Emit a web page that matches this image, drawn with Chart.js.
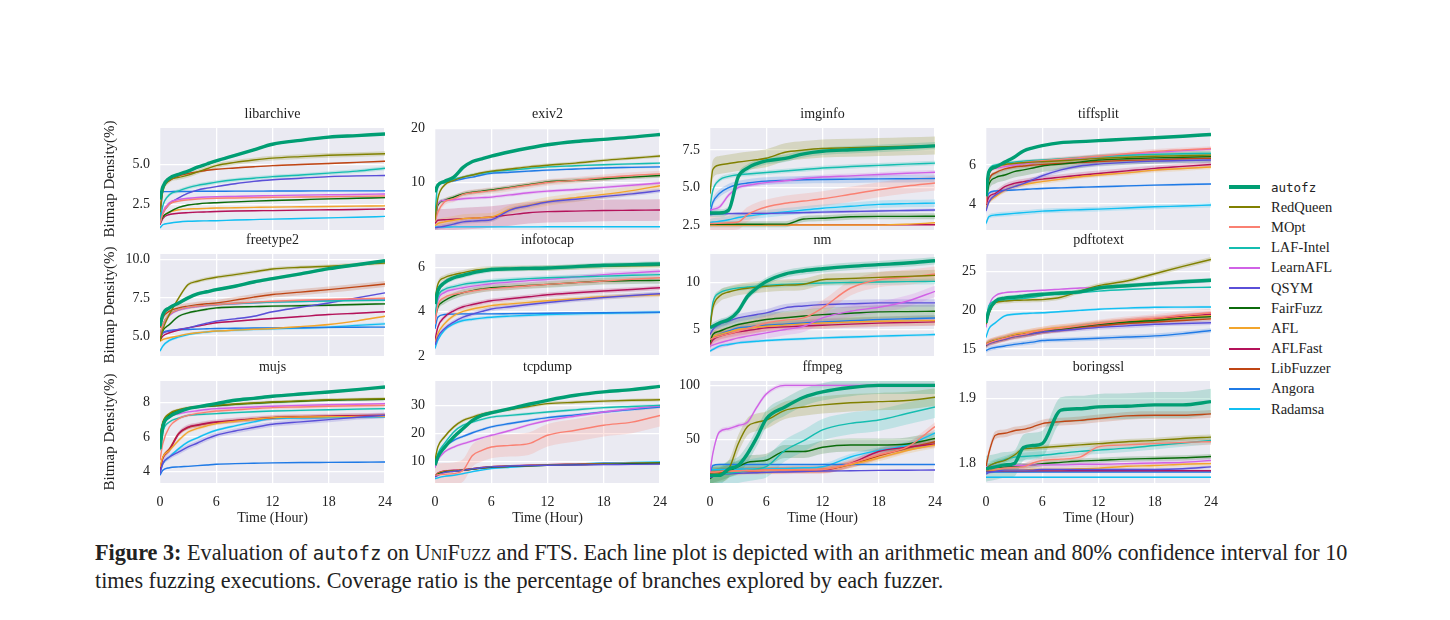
<!DOCTYPE html>
<html>
<head>
<meta charset="utf-8">
<script src="https://cdn.jsdelivr.net/npm/chart.js@4"></script>
<style>
body { margin: 0; background: #fff; width: 1450px; height: 620px; position: relative; overflow: hidden;
       font-family: "Liberation Serif", serif; color: #222; }
canvas { position: absolute; }
#legend { position: absolute; left: 1229px; top: 177px; }
.item { height: 20.2px; display: flex; align-items: center; font-size: 14.5px; }
.swatch { width: 31px; margin-right: 11px; }
.mono { font-family: "DejaVu Sans Mono", monospace; font-size: 12.5px; }
#caption { position: absolute; left: 95px; top: 539px; font-size: 22.2px; line-height: 27px; white-space: nowrap; }
#caption .tt { font-family: "DejaVu Sans Mono", monospace; font-size: 19px; }
#caption .sc { font-variant: small-caps; }
</style>
</head>
<body>
<div id="legend"></div>
<div id="caption"><b>Figure 3:</b> Evaluation of <span class="tt">autofz</span> on <span class="sc">UniFuzz</span> and FTS. Each line plot is depicted with an arithmetic mean and 80% confidence interval for 10<br>times fuzzing executions. Coverage ratio is the percentage of branches explored by each fuzzer.</div>
<script>
// time axis (hours) shared by every series
const HOURS = [0, 0.3, 1, 2, 3, 4, 5, 6, 8, 10, 12, 15, 18, 21, 24];
const X_TICKS = ['0', '6', '12', '18', '24'];

const FUZZERS = ['autofz', 'RedQueen', 'MOpt', 'LAF-Intel', 'LearnAFL', 'QSYM', 'FairFuzz', 'AFL', 'AFLFast', 'LibFuzzer', 'Angora', 'Radamsa'];
const COLORS = ['#009e73', '#808000', '#fa8072', '#14bdb0', '#d062e6', '#5a4fd8', '#0b6b0b', '#f2a52c', '#b4125a', '#bf4514', '#1f7ae6', '#11bff2'];

const TARGETS = ['libarchive', 'exiv2', 'imginfo', 'tiffsplit', 'freetype2', 'infotocap', 'nm', 'pdftotext', 'mujs', 'tcpdump', 'ffmpeg', 'boringssl'];
const Y_MIN = [0.87, 1.2, 2.17, 2.67, 3.7, 2.0, 2.2, 14.1, 3.32, 2.25, 10, 1.769];
const Y_MAX = [7.33, 20.1, 8.97, 7.9, 10.37, 6.6, 13.0, 27.3, 9.26, 38.7, 104, 1.927];
const Y_TICKS = [
  ['2.5', '5.0'], ['10', '20'], ['2.5', '5.0', '7.5'], ['4', '6'],
  ['5.0', '7.5', '10.0'], ['2', '4', '6'], ['5', '10'], ['15', '20', '25'],
  ['4', '6', '8'], ['10', '20', '30'], ['50', '100'], ['1.8', '1.9']
];

// rows follow FUZZERS order; null = not plotted
const LIBARCHIVE = [
  [2.8, 3.6, 4.15, 4.4, 4.6, 4.85, 5.05, 5.25, 5.6, 5.95, 6.3, 6.55, 6.75, 6.85, 6.95],
  [2.0, 3.3, 4.0, 4.2, 4.35, 4.55, 4.75, 4.95, 5.15, 5.3, 5.42, 5.52, 5.6, 5.65, 5.7],
  [1.3, 1.9, 2.5, 2.7, 2.78, 2.83, 2.86, 2.88, 2.9, 2.92, 2.94, 2.96, 2.98, 3.0, 3.02],
  [1.4, 2.4, 3.1, 3.35, 3.55, 3.7, 3.8, 3.9, 4.05, 4.15, 4.25, 4.35, 4.47, 4.6, 4.78],
  [1.3, 2.0, 2.6, 2.8, 2.88, 2.93, 2.96, 2.98, 3.0, 3.02, 3.05, 3.08, 3.1, 3.12, 3.15],
  [1.3, 1.9, 2.5, 2.9, 3.2, 3.4, 3.52, 3.62, 3.8, 3.95, 4.05, 4.15, 4.25, 4.3, 4.32],
  [1.3, 1.7, 2.0, 2.3, 2.45, 2.52, 2.57, 2.6, 2.65, 2.7, 2.74, 2.79, 2.84, 2.88, 2.92],
  [1.3, 1.7, 2.0, 2.15, 2.2, 2.22, 2.24, 2.26, 2.28, 2.3, 2.32, 2.34, 2.36, 2.38, 2.4],
  [1.2, 1.6, 1.85, 1.93, 1.97, 2.0, 2.02, 2.04, 2.07, 2.09, 2.1, 2.13, 2.15, 2.17, 2.2],
  [2.0, 3.5, 4.0, 4.3, 4.45, 4.55, 4.65, 4.72, 4.8, 4.88, 4.95, 5.02, 5.08, 5.15, 5.22],
  [1.3, 3.3, 3.3, 3.31, 3.31, 3.32, 3.32, 3.32, 3.33, 3.33, 3.34, 3.34, 3.35, 3.35, 3.35],
  [1.0, 1.2, 1.3, 1.38, 1.42, 1.44, 1.45, 1.46, 1.5, 1.53, 1.56, 1.6, 1.64, 1.68, 1.73]
];
const LIBARCHIVE_SPREAD = [0.08, 0.15, 0.05, 0.12, 0.05, 0.05, 0.05, 0.05, 0.05, 0.05, 0.03, 0.03];

const EXIV2 = [
  [8.2, 9.5, 10.2, 11.0, 12.8, 13.9, 14.4, 14.9, 15.7, 16.4, 17.0, 17.6, 18.0, 18.4, 18.9],
  [3.0, 7.0, 9.5, 10.4, 11.0, 11.4, 11.8, 12.1, 12.5, 12.9, 13.2, 13.6, 14.1, 14.5, 14.9],
  [2.7, 4.5, 6.4, 7.0, 7.8, 8.1, 8.3, 8.5, 9.0, 9.5, 10.0, 10.4, 10.9, 11.3, 11.6],
  [4.0, 9.5, 10.0, 10.6, 11.0, 11.4, 11.7, 12.0, 12.3, 12.6, 12.9, 13.1, 13.3, 13.45, 13.6],
  [3.0, 6.1, 6.7, 6.8, 7.0, 7.1, 7.2, 7.3, 7.7, 8.1, 8.4, 8.7, 9.1, 9.5, 9.9],
  [1.6, 1.7, 1.9, 2.3, 2.7, 2.85, 2.95, 3.1, 4.9, 5.7, 6.4, 6.9, 7.4, 7.9, 8.5],
  [2.7, 5.8, 6.7, 7.3, 7.9, 8.2, 8.4, 8.6, 9.1, 9.6, 10.1, 10.4, 10.7, 11.0, 11.3],
  [2.0, 2.4, 2.7, 3.0, 3.3, 3.4, 3.5, 3.6, 5.0, 5.8, 6.5, 7.2, 7.8, 8.5, 9.4],
  [2.4, 3.0, 3.1, 3.2, 3.3, 3.4, 3.5, 3.6, 4.0, 4.4, 4.6, 4.7, 4.8, 4.85, 4.9],
  null,
  [8.6, 9.6, 10.0, 10.3, 10.7, 11.0, 11.4, 11.7, 11.9, 12.1, 12.3, 12.5, 12.7, 12.8, 12.9],
  [1.75, 1.76, 1.76, 1.77, 1.77, 1.77, 1.78, 1.78, 1.78, 1.78, 1.79, 1.79, 1.79, 1.8, 1.8]
];
const EXIV2_SPREAD = [0.2, 0.3, 0.6, 0.2, 0.3, 0.4, 0.4, 0.8, 2.0, 0, 0.2, 0.05];

const IMGINFO = [
  [3.3, 3.3, 3.3, 3.5, 5.7, 6.3, 6.6, 6.78, 6.95, 7.25, 7.42, 7.52, 7.6, 7.68, 7.78],
  [4.6, 6.2, 6.5, 6.6, 6.7, 6.78, 6.85, 6.95, 7.35, 7.5, 7.6, 7.65, 7.7, 7.75, 7.8],
  [2.6, 2.6, 2.62, 2.65, 2.7, 3.2, 3.5, 3.7, 3.95, 4.1, 4.25, 4.55, 4.85, 5.1, 5.3],
  [3.7, 4.8, 5.5, 5.75, 5.85, 5.9, 5.95, 6.0, 6.1, 6.2, 6.3, 6.4, 6.48, 6.56, 6.63],
  [3.5, 3.55, 3.7, 4.5, 5.0, 5.15, 5.25, 5.33, 5.45, 5.6, 5.7, 5.78, 5.87, 5.95, 6.02],
  [3.2, 3.22, 3.25, 3.26, 3.27, 3.27, 3.28, 3.28, 3.3, 3.33, 3.36, 3.4, 3.44, 3.47, 3.5],
  [2.55, 2.55, 2.55, 2.55, 2.55, 2.55, 2.55, 2.56, 2.56, 2.9, 2.95, 3.05, 3.08, 3.08, 3.09],
  [2.5, 2.5, 2.5, 2.5, 2.5, 2.5, 2.5, 2.5, 2.5, 2.5, 2.5, 2.5, 2.5, 2.55, 2.65],
  [2.52, 2.52, 2.52, 2.52, 2.52, 2.52, 2.52, 2.52, 2.52, 2.52, 2.52, 2.52, 2.52, 2.52, 2.52],
  null,
  [3.3, 4.0, 4.6, 5.0, 5.2, 5.3, 5.38, 5.43, 5.48, 5.52, 5.54, 5.56, 5.58, 5.59, 5.6],
  [2.65, 2.7, 2.75, 2.85, 3.0, 3.1, 3.18, 3.25, 3.38, 3.5, 3.62, 3.75, 3.88, 3.93, 3.96]
];
const IMGINFO_SPREAD = [0.25, 0.6, 0.5, 0.15, 0.15, 0.1, 0.2, 0.05, 0.03, 0, 0.25, 0.25];

const TIFFSPLIT = [
  [4.4, 5.65, 5.9, 6.15, 6.4, 6.72, 6.88, 7.0, 7.15, 7.2, 7.25, 7.33, 7.4, 7.48, 7.57],
  [4.55, 5.5, 5.9, 6.03, 6.08, 6.12, 6.15, 6.17, 6.22, 6.28, 6.34, 6.4, 6.45, 6.48, 6.51],
  [4.0, 5.55, 5.85, 6.0, 6.08, 6.13, 6.18, 6.22, 6.3, 6.38, 6.45, 6.58, 6.7, 6.78, 6.85],
  [4.46, 5.74, 6.0, 6.1, 6.15, 6.2, 6.23, 6.26, 6.32, 6.38, 6.43, 6.5, 6.55, 6.58, 6.6],
  [4.1, 5.57, 5.83, 5.92, 6.0, 6.07, 6.12, 6.17, 6.26, 6.35, 6.43, 6.55, 6.65, 6.74, 6.82],
  [3.64, 4.1, 4.46, 4.72, 4.89, 5.05, 5.25, 5.45, 5.75, 5.95, 6.05, 6.14, 6.2, 6.23, 6.26],
  [4.1, 4.97, 5.35, 5.49, 5.66, 5.75, 5.85, 5.95, 6.05, 6.15, 6.26, 6.32, 6.37, 6.4, 6.43],
  [3.78, 4.1, 4.38, 4.7, 4.89, 5.0, 5.08, 5.15, 5.28, 5.4, 5.49, 5.6, 5.74, 5.82, 5.9],
  [3.95, 4.35, 4.55, 4.89, 5.06, 5.15, 5.22, 5.28, 5.38, 5.48, 5.57, 5.7, 5.83, 5.93, 6.03],
  [4.0, 5.2, 5.6, 5.8, 5.9, 5.95, 6.0, 6.03, 6.08, 6.13, 6.18, 6.24, 6.28, 6.32, 6.35],
  [3.95, 4.55, 4.67, 4.7, 4.72, 4.75, 4.78, 4.8, 4.83, 4.86, 4.89, 4.93, 4.97, 5.0, 5.03],
  [3.0, 3.35, 3.44, 3.48, 3.52, 3.56, 3.6, 3.64, 3.68, 3.71, 3.74, 3.8, 3.86, 3.9, 3.95]
];
const TIFFSPLIT_SPREAD = [0.05, 0.1, 0.12, 0.08, 0.08, 0.12, 0.3, 0.12, 0.15, 0.1, 0.05, 0.12];

const FREETYPE2 = [
  [5.65, 6.41, 6.85, 7.17, 7.5, 7.76, 7.9, 8.04, 8.26, 8.54, 8.76, 9.07, 9.41, 9.67, 9.93],
  [4.67, 5.43, 6.41, 7.5, 8.37, 8.59, 8.74, 8.85, 9.02, 9.2, 9.39, 9.5, 9.57, 9.67, 9.78],
  [5.0, 5.76, 6.41, 6.74, 6.89, 6.97, 7.03, 7.07, 7.15, 7.22, 7.28, 7.35, 7.4, 7.45, 7.48],
  [5.0, 5.76, 6.41, 6.74, 6.89, 6.97, 7.03, 7.07, 7.13, 7.18, 7.22, 7.26, 7.3, 7.33, 7.35],
  [5.0, 5.7, 6.35, 6.7, 6.85, 6.93, 7.0, 7.05, 7.12, 7.18, 7.24, 7.3, 7.35, 7.4, 7.43],
  [5.1, 5.2, 5.33, 5.45, 5.54, 5.7, 5.85, 5.98, 6.13, 6.3, 6.59, 6.88, 7.17, 7.5, 7.83],
  [4.72, 5.33, 5.76, 6.3, 6.52, 6.65, 6.76, 6.85, 6.9, 6.93, 6.96, 6.99, 7.02, 7.07, 7.11],
  [4.67, 4.78, 4.89, 5.02, 5.15, 5.22, 5.28, 5.33, 5.39, 5.45, 5.5, 5.62, 5.76, 6.0, 6.3],
  [4.72, 5.0, 5.22, 5.4, 5.54, 5.65, 5.77, 5.87, 5.97, 6.07, 6.15, 6.28, 6.41, 6.5, 6.59],
  [5.54, 6.2, 6.63, 6.85, 6.96, 7.05, 7.12, 7.17, 7.35, 7.55, 7.72, 7.88, 8.04, 8.22, 8.41],
  [4.78, 5.22, 5.37, 5.41, 5.43, 5.46, 5.48, 5.5, 5.51, 5.53, 5.54, 5.55, 5.57, 5.58, 5.59],
  [4.02, 4.35, 4.72, 4.95, 5.1, 5.2, 5.27, 5.33, 5.39, 5.44, 5.48, 5.53, 5.59, 5.7, 5.8]
];
const FREETYPE2_SPREAD = [0.1, 0.12, 0.08, 0.08, 0.08, 0.05, 0.08, 0.05, 0.05, 0.2, 0.05, 0.1];

const INFOTOCAP = [
  [4.34, 4.93, 5.3, 5.53, 5.64, 5.75, 5.83, 5.9, 5.93, 5.95, 5.97, 6.03, 6.09, 6.12, 6.15],
  [4.56, 5.23, 5.53, 5.67, 5.76, 5.85, 5.9, 5.93, 5.95, 5.96, 5.97, 6.01, 6.04, 6.07, 6.09],
  [3.45, 4.27, 4.64, 4.78, 4.86, 4.93, 5.0, 5.04, 5.1, 5.17, 5.23, 5.31, 5.38, 5.46, 5.53],
  [3.82, 4.64, 5.0, 5.13, 5.23, 5.29, 5.34, 5.38, 5.44, 5.49, 5.53, 5.57, 5.6, 5.64, 5.67],
  [3.67, 4.49, 4.86, 5.0, 5.08, 5.15, 5.21, 5.26, 5.33, 5.4, 5.45, 5.56, 5.67, 5.75, 5.82],
  [2.49, 2.86, 3.23, 3.53, 3.75, 3.89, 4.01, 4.12, 4.22, 4.32, 4.41, 4.53, 4.64, 4.73, 4.81],
  [3.67, 4.19, 4.49, 4.71, 4.86, 4.95, 5.02, 5.08, 5.13, 5.18, 5.23, 5.31, 5.38, 5.4, 5.41],
  [2.56, 3.0, 3.45, 3.82, 4.01, 4.12, 4.2, 4.27, 4.35, 4.42, 4.49, 4.58, 4.67, 4.72, 4.76],
  [2.71, 3.3, 3.75, 4.04, 4.22, 4.32, 4.41, 4.49, 4.58, 4.67, 4.76, 4.85, 4.93, 5.0, 5.08],
  null,
  [3.23, 3.75, 3.87, 3.89, 3.9, 3.9, 3.9, 3.9, 3.91, 3.92, 3.93, 3.94, 3.95, 3.96, 3.97],
  [2.34, 2.71, 3.16, 3.45, 3.6, 3.66, 3.71, 3.75, 3.8, 3.84, 3.87, 3.9, 3.93, 3.95, 3.97]
];
const INFOTOCAP_SPREAD = [0.12, 0.12, 0.12, 0.1, 0.1, 0.1, 0.15, 0.1, 0.1, 0, 0.04, 0.08];

const NM = [
  [5.18, 5.35, 5.7, 6.06, 6.94, 8.52, 9.4, 10.1, 10.88, 11.23, 11.44, 11.69, 11.87, 12.04, 12.29],
  [5.18, 7.29, 8.52, 8.98, 9.23, 9.37, 9.48, 9.58, 9.7, 9.8, 10.28, 10.4, 10.53, 10.63, 10.74],
  [3.94, 4.1, 4.3, 4.55, 4.82, 5.1, 5.4, 5.7, 6.0, 6.23, 7.29, 9.4, 10.28, 10.53, 10.88],
  [5.18, 7.82, 8.87, 9.23, 9.4, 9.5, 9.6, 9.68, 9.78, 9.86, 9.93, 9.98, 10.03, 10.07, 10.1],
  [3.24, 3.35, 3.59, 3.85, 4.12, 4.3, 4.48, 4.65, 5.0, 5.35, 6.23, 6.94, 7.36, 8.0, 9.05],
  [4.47, 5.0, 5.53, 5.9, 6.23, 6.42, 6.6, 6.76, 7.3, 7.5, 7.64, 7.73, 7.82, 7.82, 7.82],
  [3.59, 4.47, 4.82, 5.2, 5.53, 5.72, 5.9, 6.06, 6.25, 6.43, 6.58, 6.72, 6.87, 6.9, 6.94],
  [3.59, 4.2, 4.47, 4.75, 5.0, 5.12, 5.25, 5.35, 5.47, 5.6, 5.7, 5.8, 5.88, 5.92, 5.95],
  [3.42, 3.9, 4.3, 4.55, 4.75, 4.9, 5.05, 5.18, 5.28, 5.38, 5.46, 5.58, 5.68, 5.75, 5.81],
  null,
  [3.77, 4.1, 4.47, 4.85, 5.18, 5.28, 5.38, 5.46, 5.58, 5.7, 5.81, 5.93, 6.06, 6.15, 6.23],
  [2.71, 2.89, 3.24, 3.42, 3.59, 3.68, 3.76, 3.84, 3.94, 4.03, 4.12, 4.21, 4.3, 4.38, 4.47]
];
const NM_SPREAD = [0.4, 0.6, 0.8, 0.3, 0.6, 0.4, 0.7, 0.5, 0.4, 0, 0.3, 0.15];

const PDFTOTEXT = [
  [18.4, 19.9, 21.2, 21.6, 21.7, 21.85, 22.0, 22.1, 22.25, 22.4, 22.9, 23.2, 23.45, 23.7, 23.9],
  [18.2, 19.5, 21.0, 21.2, 21.3, 21.33, 21.37, 21.4, 21.7, 22.5, 23.2, 23.8, 24.75, 25.7, 26.6],
  [15.6, 15.8, 16.1, 16.4, 16.7, 16.9, 17.2, 17.4, 17.7, 18.0, 18.3, 18.7, 19.0, 19.4, 19.7],
  [18.6, 20.6, 21.2, 21.3, 21.4, 21.55, 21.7, 21.9, 22.1, 22.3, 22.5, 22.7, 22.85, 22.95, 23.0],
  [17.8, 20.4, 21.9, 22.3, 22.4, 22.47, 22.55, 22.6, 22.75, 22.9, 23.0, 23.2, 23.4, 23.6, 23.8],
  [15.5, 15.7, 16.0, 16.3, 16.6, 16.8, 17.0, 17.2, 17.4, 17.6, 17.8, 18.0, 18.2, 18.3, 18.4],
  [15.5, 15.8, 16.1, 16.4, 16.7, 16.9, 17.1, 17.3, 17.6, 17.9, 18.2, 18.5, 18.7, 19.0, 19.2],
  [15.6, 15.9, 16.2, 16.5, 16.9, 17.1, 17.3, 17.5, 17.8, 18.0, 18.3, 18.6, 18.8, 19.1, 19.3],
  [15.5, 15.8, 16.1, 16.4, 16.7, 16.9, 17.1, 17.3, 17.6, 17.9, 18.2, 18.6, 18.9, 19.2, 19.5],
  [15.5, 15.8, 16.0, 16.3, 16.6, 16.8, 17.0, 17.2, 17.5, 17.8, 18.0, 18.3, 18.5, 18.7, 18.9],
  [14.8, 15.0, 15.2, 15.4, 15.6, 15.75, 15.9, 16.1, 16.2, 16.3, 16.4, 16.55, 16.7, 17.0, 17.4],
  [16.5, 17.6, 18.4, 19.3, 19.5, 19.6, 19.65, 19.7, 19.85, 20.0, 20.15, 20.3, 20.4, 20.43, 20.45]
];
const PDFTOTEXT_SPREAD = [0.3, 0.3, 0.5, 0.1, 0.1, 0.3, 0.3, 0.4, 0.4, 0.3, 0.3, 0.15];

const MUJS = [
  [5.32, 6.58, 7.17, 7.46, 7.65, 7.75, 7.85, 7.94, 8.14, 8.25, 8.37, 8.5, 8.62, 8.76, 8.91],
  [6.1, 6.87, 7.36, 7.59, 7.71, 7.76, 7.8, 7.84, 7.92, 7.98, 8.04, 8.1, 8.17, 8.2, 8.23],
  [4.64, 5.61, 6.58, 7.07, 7.26, 7.37, 7.45, 7.51, 7.58, 7.65, 7.71, 7.75, 7.79, 7.82, 7.84],
  [5.22, 6.29, 6.87, 7.1, 7.26, 7.3, 7.33, 7.36, 7.42, 7.47, 7.51, 7.55, 7.59, 7.62, 7.65],
  [5.51, 6.58, 7.17, 7.35, 7.46, 7.53, 7.6, 7.65, 7.7, 7.75, 7.79, 7.84, 7.88, 7.91, 7.94],
  [3.86, 4.45, 4.83, 5.13, 5.42, 5.65, 5.9, 6.1, 6.35, 6.55, 6.74, 6.88, 7.01, 7.15, 7.26],
  [6.0, 6.8, 7.3, 7.55, 7.68, 7.74, 7.78, 7.82, 7.9, 7.96, 8.02, 8.08, 8.14, 8.17, 8.2],
  [4.25, 4.83, 5.22, 5.81, 6.29, 6.5, 6.65, 6.78, 6.92, 7.03, 7.13, 7.16, 7.18, 7.19, 7.2],
  [4.06, 4.74, 5.22, 6.19, 6.58, 6.7, 6.8, 6.87, 6.97, 7.05, 7.13, 7.18, 7.21, 7.24, 7.26],
  [4.1, 4.8, 5.3, 6.2, 6.55, 6.68, 6.78, 6.85, 6.95, 7.04, 7.12, 7.17, 7.2, 7.23, 7.25],
  [3.77, 4.06, 4.21, 4.26, 4.29, 4.33, 4.37, 4.41, 4.45, 4.47, 4.49, 4.51, 4.52, 4.53, 4.54],
  [3.96, 4.45, 4.83, 5.32, 5.71, 5.95, 6.2, 6.39, 6.65, 6.88, 7.07, 7.1, 7.13, 7.15, 7.17]
];
const MUJS_SPREAD = [0.08, 0.08, 0.1, 0.06, 0.08, 0.15, 0.08, 0.1, 0.15, 0.1, 0.04, 0.08];

const TCPDUMP = [
  [8.6, 11.5, 14.9, 18.7, 21.7, 24.6, 26.4, 27.3, 28.8, 30.4, 31.8, 33.6, 34.8, 35.6, 36.8],
  [10.4, 15.1, 18.7, 22.3, 24.6, 25.8, 26.8, 27.6, 28.5, 29.6, 30.6, 31.1, 31.5, 31.8, 32.0],
  [5.0, 5.2, 5.4, 5.6, 6.8, 12.1, 13.9, 15.1, 15.7, 16.3, 19.3, 21.1, 22.9, 24.0, 26.4],
  [9.2, 12.7, 16.3, 20.5, 22.9, 24.0, 25.0, 25.8, 26.4, 27.0, 27.6, 28.4, 29.2, 29.6, 30.0],
  [7.7, 10.4, 13.3, 15.1, 16.3, 17.3, 18.4, 19.3, 21.0, 23.0, 24.6, 26.2, 27.6, 28.8, 29.8],
  [4.4, 5.0, 6.0, 6.4, 6.8, 7.3, 7.7, 8.0, 8.3, 8.5, 8.6, 8.7, 8.8, 8.9, 9.0],
  [4.6, 5.4, 6.2, 6.5, 6.8, 7.2, 7.6, 7.9, 8.2, 8.4, 8.6, 8.8, 9.0, 9.2, 9.4],
  [4.6, 5.6, 6.4, 6.6, 6.9, 7.3, 7.7, 8.0, 8.3, 8.5, 8.7, 8.9, 9.1, 9.3, 9.5],
  [4.8, 5.8, 6.6, 6.8, 7.0, 7.4, 7.8, 8.1, 8.4, 8.6, 8.8, 9.0, 9.2, 9.3, 9.4],
  [4.5, 5.4, 6.2, 6.5, 6.8, 7.2, 7.6, 7.9, 8.2, 8.4, 8.6, 8.8, 9.0, 9.1, 9.2],
  [8.6, 12.1, 15.1, 17.5, 18.9, 20.2, 21.3, 22.3, 23.5, 24.6, 25.6, 26.6, 27.6, 28.5, 29.4],
  [3.8, 4.1, 4.6, 5.0, 5.6, 6.3, 6.9, 7.4, 7.9, 8.3, 8.6, 9.0, 9.4, 9.6, 9.8]
];
const TCPDUMP_SPREAD = [0.3, 0.6, 4.0, 0.5, 0.5, 0.3, 0.3, 0.3, 0.3, 0.3, 0.5, 0.3];

const FFMPEG = [
  [17, 17, 17, 23, 26, 37, 52, 69, 80, 89, 94, 98, 100, 100, 100],
  [17, 17.5, 18.7, 23, 46, 62, 66, 68, 77, 80, 82, 84, 85, 86, 89],
  [20, 20, 20.5, 21, 21, 21.5, 21.5, 22, 22, 22.2, 22.5, 28, 36, 43, 62],
  [17, 17.5, 18, 19, 20, 21.5, 23, 25, 40, 49, 59, 65, 68, 74, 80],
  [20, 37, 57, 60, 63, 66, 80, 92, 100, 100, 100, 100, 100, 100, 100],
  [15, 16, 18, 18.5, 19, 19.2, 19.5, 19.8, 20.2, 20.6, 21, 21.3, 21.6, 21.8, 22],
  [14, 16, 18, 21, 25, 29, 30, 31, 39, 39, 43, 45, 45, 46, 51],
  [20, 20, 20.5, 21, 21, 21.3, 21.5, 21.7, 22, 22.2, 22.5, 27, 33, 40, 45],
  [20, 20, 20.5, 21, 21, 21.3, 21.5, 21.7, 22, 22, 22, 28, 39, 43, 46],
  [19, 19.5, 20, 20.5, 21, 21.2, 21.4, 21.6, 22, 22.2, 22.4, 27, 35, 42, 48],
  [19, 26, 27, 27, 27, 27, 27, 27, 27, 27, 27, 27, 27, 27, 27],
  [22, 22.2, 22.4, 22.6, 22.8, 23, 23, 23, 23.5, 24, 25, 34, 40, 45, 56]
];
const FFMPEG_SPREAD = [8, 8, 4, 10, 2, 0.5, 6, 3, 3, 3, 0.5, 3];

const BORINGSSL = [
  [1.791, 1.792, 1.794, 1.797, 1.799, 1.824, 1.827, 1.83, 1.882, 1.884, 1.887, 1.888, 1.89, 1.89, 1.895],
  [1.79, 1.795, 1.8, 1.804, 1.812, 1.822, 1.823, 1.824, 1.826, 1.828, 1.83, 1.833, 1.835, 1.838, 1.84],
  [1.789, 1.79, 1.791, 1.792, 1.793, 1.794, 1.8, 1.804, 1.806, 1.809, 1.825, 1.828, 1.83, 1.832, 1.833],
  [1.791, 1.795, 1.8, 1.805, 1.809, 1.81, 1.811, 1.812, 1.815, 1.818, 1.82, 1.823, 1.827, 1.831, 1.835],
  [1.794, 1.795, 1.795, 1.796, 1.796, 1.796, 1.797, 1.797, 1.797, 1.798, 1.798, 1.799, 1.8, 1.801, 1.804],
  [1.783, 1.785, 1.787, 1.789, 1.789, 1.789, 1.789, 1.79, 1.79, 1.79, 1.79, 1.79, 1.79, 1.791, 1.794],
  [1.789, 1.79, 1.792, 1.794, 1.795, 1.796, 1.797, 1.799, 1.801, 1.803, 1.804, 1.806, 1.807, 1.808, 1.81],
  [1.789, 1.789, 1.789, 1.789, 1.789, 1.789, 1.79, 1.79, 1.79, 1.791, 1.792, 1.795, 1.796, 1.798, 1.799],
  [1.788, 1.788, 1.788, 1.788, 1.788, 1.788, 1.788, 1.788, 1.788, 1.788, 1.788, 1.788, 1.788, 1.788, 1.788],
  [1.794, 1.815, 1.843, 1.846, 1.85, 1.852, 1.856, 1.861, 1.864, 1.866, 1.869, 1.873, 1.874, 1.874, 1.876],
  [1.786, 1.786, 1.786, 1.786, 1.786, 1.786, 1.786, 1.786, 1.786, 1.786, 1.786, 1.786, 1.786, 1.786, 1.786],
  [1.778, 1.778, 1.778, 1.778, 1.778, 1.778, 1.778, 1.778, 1.778, 1.778, 1.778, 1.778, 1.778, 1.778, 1.778]
];
const BORINGSSL_SPREAD = [0.02, 0.004, 0.005, 0.006, 0.004, 0.002, 0.004, 0.004, 0.002, 0.006, 0.001, 0.001];

const SERIES = [LIBARCHIVE, EXIV2, IMGINFO, TIFFSPLIT, FREETYPE2, INFOTOCAP, NM, PDFTOTEXT, MUJS, TCPDUMP, FFMPEG, BORINGSSL];
const SPREADS = [LIBARCHIVE_SPREAD, EXIV2_SPREAD, IMGINFO_SPREAD, TIFFSPLIT_SPREAD, FREETYPE2_SPREAD, INFOTOCAP_SPREAD,
                 NM_SPREAD, PDFTOTEXT_SPREAD, MUJS_SPREAD, TCPDUMP_SPREAD, FFMPEG_SPREAD, BORINGSSL_SPREAD];

// page geometry of each plot area
const PLOT_LEFT = [160, 435, 710, 986];
const PLOT_TOP = [128, 254, 381];
const PLOT_W = 225, PLOT_H = 102;
const AXIS_W = 62, TITLE_H = 24, XAXIS_H = 47, PAD_R = 12, EXTRA = 16;

Chart.defaults.font.family = "'Liberation Serif', serif";
Chart.defaults.font.size = 14;
Chart.defaults.color = '#222';

function rgba(hex, a) {
    const n = parseInt(hex.slice(1), 16);
    return `rgba(${n >> 16},${(n >> 8) & 255},${n & 255},${a})`;
}

const plotBackground = {
    id: 'plotBackground',
    beforeDraw(chart) {
        const { ctx, chartArea: a } = chart;
        ctx.save();
        ctx.fillStyle = '#eaeaf2';
        ctx.fillRect(a.left, a.top, a.right - a.left, a.bottom - a.top);
        ctx.restore();
    }
};

function points(vals, shift) {
    return vals.map((v, j) => ({ x: HOURS[j], y: v + shift }));
}

function makeChart(k) {
    const col = k % 4, row = Math.floor(k / 4);
    const bottomRow = row === 2, firstCol = col === 0;
    const padBottom = bottomRow ? 0 : EXTRA;

    const canvas = document.createElement('canvas');
    canvas.width = AXIS_W + PLOT_W + PAD_R;
    canvas.height = EXTRA + TITLE_H + PLOT_H + (bottomRow ? XAXIS_H : 0) + padBottom;
    canvas.style.left = (PLOT_LEFT[col] - AXIS_W) + 'px';
    canvas.style.top = (PLOT_TOP[row] - TITLE_H - EXTRA) + 'px';
    document.body.appendChild(canvas);

    const datasets = [];
    SERIES[k].forEach((vals, i) => {
        if (!vals) return;
        const color = COLORS[i], s = SPREADS[k][i];
        if (s > 0) {
            datasets.push({ data: points(vals, -s), borderColor: 'transparent', borderWidth: 0, pointRadius: 0,
                            fill: false, order: 50, cubicInterpolationMode: 'monotone' });
            datasets.push({ data: points(vals, s), borderColor: 'transparent', borderWidth: 0, pointRadius: 0,
                            fill: '-1', backgroundColor: rgba(color, 0.2), order: 50, cubicInterpolationMode: 'monotone' });
        }
        datasets.push({ label: FUZZERS[i], data: points(vals, 0), borderColor: color,
                        borderWidth: i === 0 ? 3.4 : 1.4, pointRadius: 0, fill: false,
                        order: i === 0 ? 0 : 10 + i, cubicInterpolationMode: 'monotone' });
    });

    const yLabels = Y_TICKS[k];
    new Chart(canvas, {
        type: 'line',
        data: { datasets },
        plugins: [plotBackground],
        options: {
            responsive: false,
            animation: false,
            devicePixelRatio: 1,
            layout: { padding: { left: 0, right: PAD_R, top: EXTRA, bottom: padBottom } },
            plugins: {
                legend: { display: false },
                tooltip: { enabled: false },
                title: { display: true, fullSize: false, text: TARGETS[k], color: '#222',
                         font: { size: 14, weight: 'normal', lineHeight: '17px' }, padding: { top: 2, bottom: 5 } }
            },
            scales: {
                x: {
                    type: 'linear', min: 0, max: 24,
                    border: { display: false },
                    grid: { color: '#fff', lineWidth: 1.3, drawTicks: false },
                    ticks: { display: bottomRow, stepSize: 6, padding: 11, maxRotation: 0,
                             callback: v => X_TICKS[v / 6] },
                    title: { display: bottomRow, text: 'Time (Hour)', padding: { top: 0, bottom: 3 } },
                    afterFit(s) { s.height = bottomRow ? XAXIS_H : 0; s.paddingLeft = 0; s.paddingRight = 0; }
                },
                y: {
                    min: Y_MIN[k], max: Y_MAX[k],
                    border: { display: false },
                    grid: { color: '#fff', lineWidth: 1.3, drawTicks: false },
                    ticks: { padding: 10, callback: v => yLabels.find(t => parseFloat(t) === v) },
                    afterBuildTicks(s) { s.ticks = yLabels.map(t => ({ value: parseFloat(t) })); },
                    title: { display: firstCol, text: 'Bitmap Density(%)', font: { size: 15 }, padding: { top: 3, bottom: 0 } },
                    afterFit(s) { s.width = AXIS_W; s.paddingTop = 0; s.paddingBottom = 0; }
                }
            }
        }
    });
}

TARGETS.forEach((t, k) => makeChart(k));

// legend
const legend = document.getElementById('legend');
FUZZERS.forEach((name, i) => {
    const item = document.createElement('div');
    item.className = 'item';
    const sw = document.createElement('span');
    sw.className = 'swatch';
    sw.style.height = (i === 0 ? 3.5 : 2) + 'px';
    sw.style.background = COLORS[i];
    const label = document.createElement('span');
    label.textContent = name;
    if (i === 0) label.className = 'mono';
    item.appendChild(sw);
    item.appendChild(label);
    legend.appendChild(item);
});
</script>
</body>
</html>
